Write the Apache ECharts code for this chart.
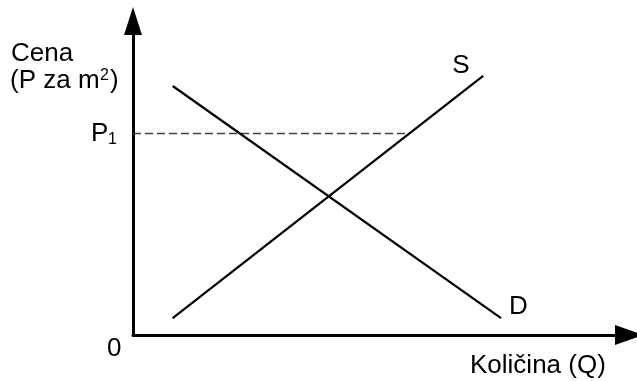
<!DOCTYPE html>
<html>
<head>
<meta charset="utf-8">
<script src="https://cdn.jsdelivr.net/npm/echarts@6/dist/echarts.min.js"></script>
<style>
html,body{margin:0;padding:0;background:#fff;}
#chart{width:637px;height:381px;}
</style>
</head>
<body>
<div id="chart"></div>
<script>
// Axis ranges (quantity Q, price P)
const qRange = [0, 100];
const pRange = [0, 100];
// Supply curve S: endpoints [Q, P]
const supplyQ = [8, 70.6];
const supplyP = [5.4, 82.5];
// Demand curve D: endpoints [Q, P]
const demandQ = [8, 74.2];
const demandP = [79.3, 5.4];
// Price level P1 and the quantity where it meets S
const p1Value = 64.2;
const p1Q = [0, 55.7];
// Texts
const yTitle = ['Cena', '(P za m', '2', ')'];
const xTitle = 'Količina (Q)';
const p1Label = ['P', '1'];
const curveLabels = ['S', 'D'];
const originLabel = '0';

const FONT = '"Liberation Sans", Arial, sans-serif';
const FS = 26;
const SUB = 16;

const chart = echarts.init(document.getElementById('chart'), null, {renderer: 'canvas'});

const zip = (a, b) => a.map((v, i) => [v, b[i]]);

chart.setOption({
  animation: false,
  backgroundColor: '#fff',
  grid: {left: 133, right: 8, top: 21, bottom: 46, containLabel: false},
  xAxis: {
    type: 'value', min: qRange[0], max: qRange[1],
    axisLine: {show: true, symbol: ['none', 'triangle'], symbolSize: [20, 28], lineStyle: {color: '#000', width: 3}},
    axisTick: {show: false}, axisLabel: {show: false}, splitLine: {show: false}
  },
  yAxis: {
    type: 'value', min: pRange[0], max: pRange[1],
    axisLine: {show: true, symbol: ['none', 'triangle'], symbolSize: [18, 28], lineStyle: {color: '#000', width: 3}},
    axisTick: {show: false}, axisLabel: {show: false}, splitLine: {show: false}
  },
  series: [
    {
      name: 'P1', type: 'line', data: zip(p1Q, [p1Value, p1Value]),
      symbol: 'none', lineStyle: {color: '#404040', width: 1.5, type: [8, 4]}, z: 1
    },
    {
      name: 'S', type: 'line', data: zip(supplyQ, supplyP),
      symbol: 'none', lineStyle: {color: '#000', width: 2.2}, z: 2
    },
    {
      name: 'D', type: 'line', data: zip(demandQ, demandP),
      symbol: 'none', lineStyle: {color: '#000', width: 2.2}, z: 2
    }
  ]
});

const toPx = (q, p) => chart.convertToPixel({gridIndex: 0}, [q, p]);
const sEnd = toPx(supplyQ[1], supplyP[1]);
const dEnd = toPx(demandQ[1], demandP[1]);
const p1Px = toPx(0, p1Value);
const origin = toPx(0, 0);

const txt = (text, x, y, size) => ({
  type: 'text', x: x, y: y, silent: true,
  style: {text: text, fill: '#000', font: size + 'px ' + FONT, textAlign: 'left', textVerticalAlign: 'middle'}
});

chart.setOption({
  graphic: [
    txt(yTitle[0], 11, 54, FS),
    txt(yTitle[1], 10, 81, FS),
    txt(yTitle[2], 100, 76, SUB),
    txt(yTitle[3], 110, 81, FS),
    txt(p1Label[0], p1Px[0] - 42, p1Px[1] + 0.5, FS),
    txt(p1Label[1], p1Px[0] - 25, p1Px[1] + 6, SUB),
    txt(curveLabels[0], sEnd[0] - 31, sEnd[1] - 10, FS),
    txt(curveLabels[1], dEnd[0] + 8, dEnd[1] - 11, FS),
    txt(originLabel, origin[0] - 26, origin[1] + 14, FS),
    txt(xTitle, 470, 366, FS)
  ]
});
</script>
</body>
</html>
